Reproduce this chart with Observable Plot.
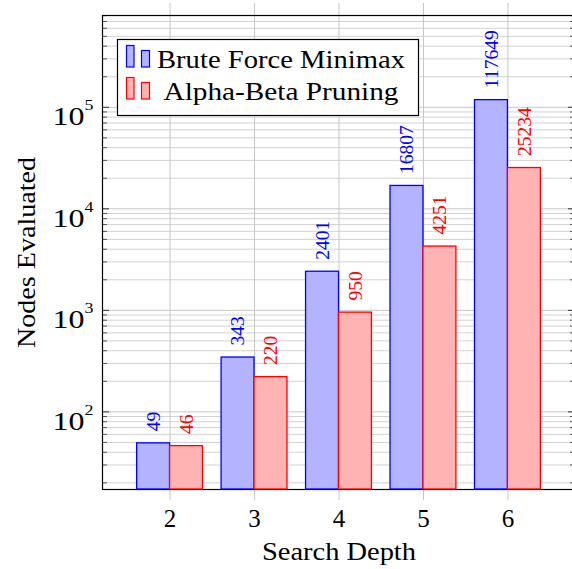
<!DOCTYPE html>
<html>
<head>
<meta charset="utf-8">
<script src="https://cdn.jsdelivr.net/npm/d3@7"></script>
<script src="https://cdn.jsdelivr.net/npm/@observablehq/plot@0.6"></script>
<style>
  html, body { margin: 0; padding: 0; background: #fff; overflow: hidden; }
  #wrap { position: relative; width: 572px; height: 569px; overflow: hidden; background: #fff; }
  #wrap > svg.overlay { position: absolute; left: 0; top: 0; pointer-events: none; }
  #chart { position: absolute; left: 0; top: 0; width: 578px; height: 569px; }
  #chart > svg { max-width: none !important; }
</style>
</head>
<body>
<div id="wrap"><div id="chart"></div></div>
<script>
// ---- data ----
const depths = [2, 3, 4, 5, 6];
const bruteForce = [49, 343, 2401, 16807, 117649];
const alphaBeta = [46, 220, 950, 4251, 25234];
const seriesNames = ["Brute Force Minimax", "Alpha-Beta Pruning"];
const yTickValues = [100, 1000, 10000, 100000];
const xAxisLabel = "Search Depth";
const yAxisLabel = "Nodes Evaluated";

// ---- scales / style ----
const xDomain = [1.2, 6.8];
const yDomain = [17.2, 802000];
const barW = 0.39;
const BLUE = "#0000ff", BLUE_FILL = "#b3b3ff";
const RED = "#ff0000", RED_FILL = "#ffb3b3";
const FONT = "'Liberation Serif', 'Times New Roman', serif";

const rows = [];
depths.forEach((d, i) => {
  rows.push({depth: d, value: bruteForce[i], series: seriesNames[0], x1: d - barW, x2: d, xm: d - barW / 2});
  rows.push({depth: d, value: alphaBeta[i], series: seriesNames[1], x1: d, x2: d + barW, xm: d + barW / 2});
});
const blueRows = rows.filter(r => r.series === seriesNames[0]);
const redRows = rows.filter(r => r.series === seriesNames[1]);
const minorTicks = d3.scaleLog().domain(yDomain).ticks().filter(v => !yTickValues.includes(v));

const W = 578, H = 569, mL = 102, mR = 3, mT = 15, mB = 80;
const plotW = W - mL - mR;

const chart = Plot.plot({
  width: W, height: H,
  marginLeft: mL, marginRight: mR, marginTop: mT, marginBottom: mB,
  style: {fontFamily: FONT, fontSize: "25px", background: "white", color: "black", maxWidth: "none"},
  x: {type: "linear", domain: xDomain},
  y: {type: "log", domain: yDomain},
  marks: [
    Plot.ruleY(minorTicks, {stroke: "#d2d2d2", strokeWidth: 1}),
    Plot.ruleY(yTickValues, {stroke: "#c6c6c6", strokeWidth: 1}),
    Plot.ruleX(depths, {stroke: "#c6c6c6", strokeWidth: 1, insetTop: -12, insetBottom: -11}),
    Plot.ruleY(minorTicks, {stroke: "#555", strokeWidth: 1, insetRight: plotW - 5}),
    Plot.ruleY(minorTicks, {stroke: "#555", strokeWidth: 1, insetLeft: plotW - 5}),
    Plot.ruleY(yTickValues, {stroke: "#333", strokeWidth: 1, insetRight: plotW - 7}),
    Plot.ruleY(yTickValues, {stroke: "#333", strokeWidth: 1, insetLeft: plotW - 7}),
    Plot.frame({stroke: "#000", strokeWidth: 1.2}),
    Plot.rect(blueRows, {x1: "x1", x2: "x2", y1: yDomain[0], y2: "value", fill: BLUE_FILL, stroke: BLUE, strokeWidth: 1.3}),
    Plot.rect(redRows, {x1: "x1", x2: "x2", y1: yDomain[0], y2: "value", fill: RED_FILL, stroke: RED, strokeWidth: 1.3}),
    Plot.text(blueRows, {x: "xm", y: "value", text: d => String(d.value), rotate: -90, textAnchor: "start", dy: -12, fill: BLUE, fontSize: 19.5}),
    Plot.text(redRows, {x: "xm", y: "value", text: d => String(d.value), rotate: -90, textAnchor: "start", dy: -12, fill: RED, fontSize: 19.5}),
    Plot.axisX({ticks: depths, tickSize: 0, tickPadding: 20, tickFormat: d => String(d),
      label: xAxisLabel, labelArrow: "none", labelAnchor: "center", labelOffset: 70}),
    Plot.axisY({ticks: yTickValues, tickSize: 0, tickPadding: 9,
      tickFormat: d => "10^" + Math.round(Math.log10(d)),
      label: yAxisLabel, labelArrow: "none", labelAnchor: "center", labelOffset: 85})
  ]
});
document.getElementById("chart").appendChild(chart);

// superscript exponents and LaTeX-like label widths
const svg = d3.select(chart);
svg.selectAll("text").each(function () {
  const t = d3.select(this);
  let s = this.textContent;
  const m = /^10\^(\d+)$/.exec(s);
  if (m) {
    t.text(null);
    t.attr("dy", "0.4em").attr("textLength", 41).attr("lengthAdjust", "spacingAndGlyphs");
    t.append("tspan").text("10");
    t.append("tspan").attr("font-size", 14).attr("dy", -15).text(m[1]);
    return;
  }
  const clean = s.replace(/[\u2190-\u2193]/g, "").trim();
  if (clean === xAxisLabel || clean === yAxisLabel) {
    if (clean !== s) {
      t.selectAll("tspan").remove();
      t.text(clean);
    }
    t.attr("textLength", clean === xAxisLabel ? 154 : 191).attr("lengthAdjust", "spacingAndGlyphs");
  }
});

// legend overlay
const lg = d3.select("#wrap").append("svg").attr("class", "overlay")
  .attr("width", 572).attr("height", 569);
lg.append("rect").attr("x", 117.5).attr("y", 39.5).attr("width", 301).attr("height", 76)
  .attr("fill", "white").attr("stroke", "black").attr("stroke-width", 1.2);
const legendItems = [
  {name: seriesNames[0], fill: BLUE_FILL, stroke: BLUE, y: 0, len: 248},
  {name: seriesNames[1], fill: RED_FILL, stroke: RED, y: 32, len: 235}
];
legendItems.forEach(it => {
  lg.append("rect").attr("x", 126.5).attr("y", 45.5 + it.y).attr("width", 7.5).attr("height", 21.5)
    .attr("fill", it.fill).attr("stroke", it.stroke).attr("stroke-width", 1.2);
  lg.append("rect").attr("x", 141.5).attr("y", 50.5 + it.y).attr("width", 8).attr("height", 16.5)
    .attr("fill", it.fill).attr("stroke", it.stroke).attr("stroke-width", 1.2);
  lg.append("text").attr("x", 281).attr("y", 68 + it.y).attr("text-anchor", "middle")
    .attr("font-family", FONT).attr("font-size", 25)
    .attr("textLength", it.len).attr("lengthAdjust", "spacingAndGlyphs")
    .text(it.name);
});
</script>
</body>
</html>
